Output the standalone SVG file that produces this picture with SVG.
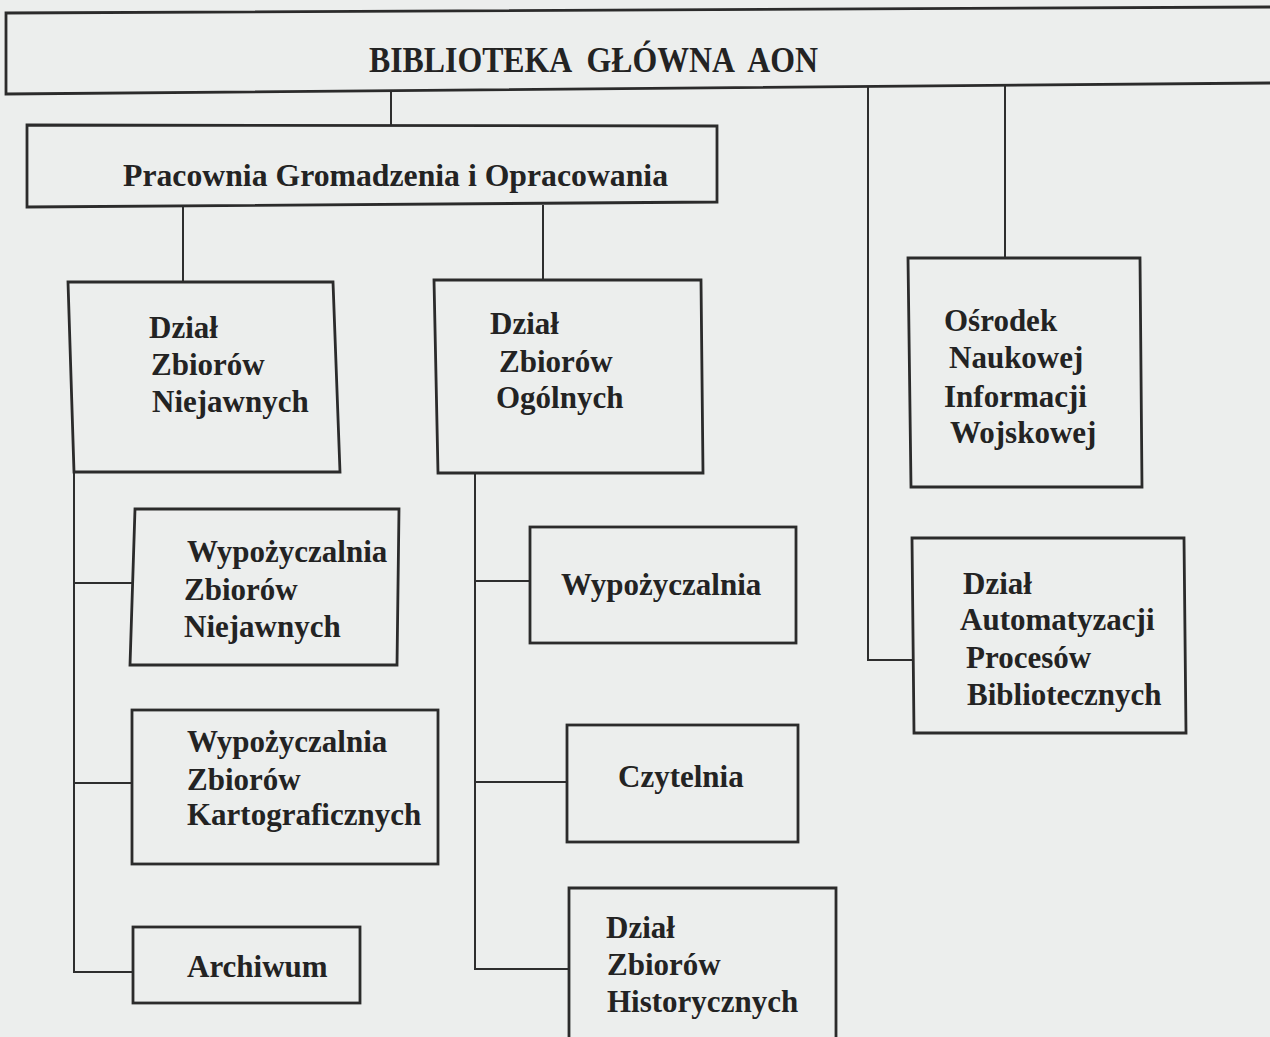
<svg xmlns="http://www.w3.org/2000/svg" width="1270" height="1037" viewBox="0 0 1270 1037">
<style>
.bg{fill:#eceeed}
.box{fill:none;stroke:#2b2b2b;stroke-width:2.8}
.con{fill:none;stroke:#2e2e2e;stroke-width:2}
.t{font-family:"Liberation Serif","Times New Roman",serif;font-weight:bold;fill:#232323;font-size:31px}
.title{font-size:36px;white-space:pre}
</style>
<rect class="bg" x="0" y="0" width="1270" height="1037"/>
<g id="connectors">
<line class="con" x1="391" y1="91" x2="391" y2="125"/>
<line class="con" x1="183" y1="207" x2="183" y2="282"/>
<line class="con" x1="543" y1="205" x2="543" y2="280"/>
<line class="con" x1="1005" y1="84" x2="1005" y2="258"/>
<polyline class="con" points="868,86 868,660 912,660"/>
<polyline class="con" points="74,472 74,972 133,972"/>
<line class="con" x1="74" y1="583" x2="133" y2="583"/>
<line class="con" x1="74" y1="783" x2="132" y2="783"/>
<polyline class="con" points="475,473 475,969 569,969"/>
<line class="con" x1="475" y1="581" x2="530" y2="581"/>
<line class="con" x1="475" y1="782" x2="567" y2="782"/>
</g>
<g id="n-biblioteka">
<path class="box" d="M1272,7 L6,13 L6,94 L1272,83"/>
<text class="t title" xml:space="preserve" x="369" y="72" textLength="449" lengthAdjust="spacingAndGlyphs">BIBLIOTEKA  GŁÓWNA  AON</text>
</g>
<g id="n-pracownia">
<path class="box" d="M27,125 L717,126 L717,202 L27,207 Z"/>
<text class="t" x="123" y="186" textLength="545" lengthAdjust="spacingAndGlyphs">Pracownia Gromadzenia i Opracowania</text>
</g>
<g id="n-niejawnych">
<path class="box" d="M68,282 L333,282 L340,472 L74,472 Z"/>
<text class="t" x="149" y="338">Dział</text>
<text class="t" x="151" y="375">Zbiorów</text>
<text class="t" x="152" y="412">Niejawnych</text>
</g>
<g id="n-ogolnych">
<path class="box" d="M434,280 L701,280 L703,473 L438,473 Z"/>
<text class="t" x="490" y="334">Dział</text>
<text class="t" x="499" y="372">Zbiorów</text>
<text class="t" x="496" y="408">Ogólnych</text>
</g>
<g id="n-osrodek">
<path class="box" d="M908,258 L1140,258 L1142,487 L911,487 Z"/>
<text class="t" x="944" y="331">Ośrodek</text>
<text class="t" x="949" y="368">Naukowej</text>
<text class="t" x="944" y="407">Informacji</text>
<text class="t" x="950" y="443">Wojskowej</text>
</g>
<g id="n-automatyzacji">
<path class="box" d="M912,538 L1184,538 L1186,733 L914,733 Z"/>
<text class="t" x="963" y="594">Dział</text>
<text class="t" x="960" y="630">Automatyzacji</text>
<text class="t" x="966" y="668">Procesów</text>
<text class="t" x="967" y="705">Bibliotecznych</text>
</g>
<g id="n-wyp-niejawnych">
<path class="box" d="M135,509 L399,509 L397,665 L130,665 Z"/>
<text class="t" x="187" y="562">Wypożyczalnia</text>
<text class="t" x="184" y="600">Zbiorów</text>
<text class="t" x="184" y="637">Niejawnych</text>
</g>
<g id="n-wypozyczalnia">
<rect class="box" x="530" y="527" width="266" height="116"/>
<text class="t" x="561" y="595">Wypożyczalnia</text>
</g>
<g id="n-wyp-kartograficznych">
<rect class="box" x="132" y="710" width="306" height="154"/>
<text class="t" x="187" y="752">Wypożyczalnia</text>
<text class="t" x="187" y="790">Zbiorów</text>
<text class="t" x="187" y="825">Kartograficznych</text>
</g>
<g id="n-czytelnia">
<rect class="box" x="567" y="725" width="231" height="117"/>
<text class="t" x="618" y="787">Czytelnia</text>
</g>
<g id="n-archiwum">
<rect class="box" x="133" y="927" width="227" height="76"/>
<text class="t" x="187" y="977">Archiwum</text>
</g>
<g id="n-historycznych">
<path class="box" d="M569,1040 L569,888 L836,888 L836,1040"/>
<text class="t" x="606" y="938">Dział</text>
<text class="t" x="607" y="975">Zbiorów</text>
<text class="t" x="607" y="1012">Historycznych</text>
</g>
</svg>
